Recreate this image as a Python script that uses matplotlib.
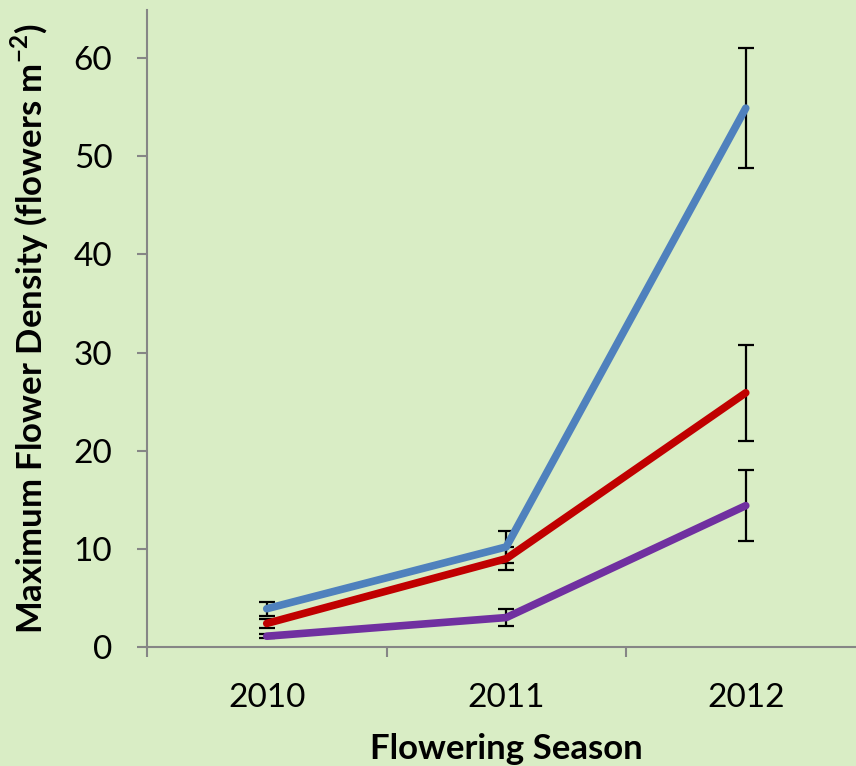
import matplotlib

matplotlib.use("Agg")
import matplotlib.pyplot as plt

plt.rcParams["font.family"] = ["Lato", "DejaVu Sans"]
plt.rcParams["mathtext.fontset"] = "custom"
plt.rcParams["mathtext.rm"] = "Lato"
plt.rcParams["mathtext.bf"] = "Lato:bold"

# Maximum flower density per season, three treatments (mean +/- SE)
seasons = ["2010", "2011", "2012"]
blue_vals = [3.9, 10.2, 54.9]
blue_err = [0.7, 1.6, 6.1]
red_vals = [2.4, 9.0, 25.9]
red_err = [0.5, 1.2, 4.9]
purple_vals = [1.1, 3.0, 14.4]
purple_err = [0.2, 0.9, 3.6]

BG = "#d9edc5"
AXIS = "#868686"

fig = plt.figure(figsize=(8.56, 7.66), dpi=100, facecolor=BG)
ax = fig.add_axes([147 / 856, 119 / 766, 718.5 / 856, 637 / 766], facecolor=BG)

x = [1, 2, 3]
series = [
    (blue_vals, blue_err, "#4f81bd"),
    (red_vals, red_err, "#c00000"),
    (purple_vals, purple_err, "#7030a0"),
]
for vals, err, color in series:
    ax.errorbar(x, vals, yerr=err, fmt="none", ecolor="black", elinewidth=1.6,
                capsize=6, capthick=1.6, zorder=2)
    ax.plot(x, vals, color=color, lw=5.5, solid_capstyle="round",
            solid_joinstyle="round", zorder=3)

ax.set_xlim(0.5, 3.5)
ax.set_ylim(0, 64.9)
ax.set_yticks(range(0, 61, 10))
ax.set_xticks(x)
ax.set_xticklabels(seasons)
ax.set_xticks([0.5, 1.5, 2.5, 3.5], minor=True)

for side in ("top", "right"):
    ax.spines[side].set_visible(False)
for side in ("left", "bottom"):
    ax.spines[side].set_color(AXIS)
    ax.spines[side].set_linewidth(1.5)

ax.tick_params(axis="y", length=7, width=1.5, color=AXIS, labelsize=24, pad=18)
ax.tick_params(axis="x", which="major", length=0, labelsize=24, pad=26)
ax.tick_params(axis="x", which="minor", length=7, width=1.5, color=AXIS)

ax.set_xlabel("Flowering Season", fontsize=25, fontweight="bold", labelpad=14)
ax.set_ylabel("Maximum Flower Density (flowers m$^{\\mathbf{-2}}$)", fontsize=25,
              fontweight="bold", labelpad=16)

fig.savefig("out.png", dpi=100, facecolor=BG)
